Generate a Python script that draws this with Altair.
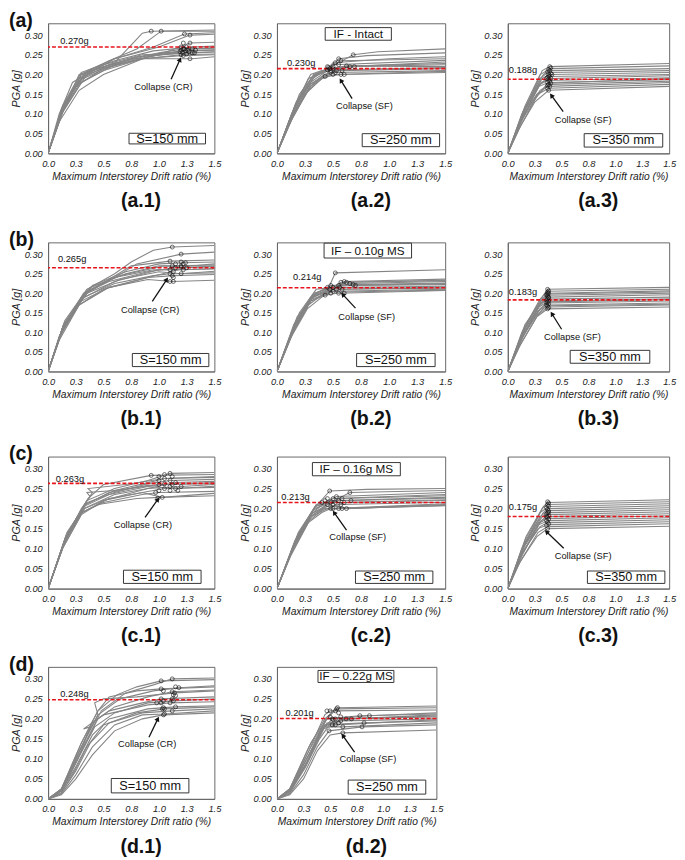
import math
import altair as alt
import pandas as pd

FONT = "Liberation Sans"
X_TICKS = [0, 0.25, 0.5, 0.75, 1.0, 1.25, 1.5]
Y_TICKS = [0, 0.05, 0.10, 0.15, 0.20, 0.25, 0.30]
X_TITLE = "Maximum Interstorey Drift ratio (%)"
Y_TITLE = "PGA [g]"

# ---------------- data ----------------
A1_CURVES = [
    [(0, 0), (0.1, 0.09), (0.25, 0.17), (0.5, 0.215), (0.85, 0.24), (1.2, 0.25), (1.5, 0.252)],
    [(0, 0), (0.12, 0.11), (0.3, 0.19), (0.55, 0.225), (0.9, 0.25), (1.22, 0.26), (1.5, 0.262)],
    [(0, 0), (0.15, 0.12), (0.28, 0.2), (0.45, 0.215), (0.8, 0.245), (1.25, 0.255), (1.5, 0.258)],
    [(0, 0), (0.1, 0.1), (0.22, 0.18), (0.4, 0.21), (0.75, 0.24), (1.3, 0.24), (1.5, 0.245)],
    [(0, 0), (0.13, 0.12), (0.3, 0.205), (0.6, 0.235), (0.95, 0.26), (1.3, 0.27), (1.5, 0.272)],
    [(0, 0), (0.14, 0.11), (0.35, 0.2), (0.65, 0.23), (1.0, 0.255), (1.22, 0.265), (1.5, 0.268)],
    [(0, 0), (0.1, 0.08), (0.28, 0.16), (0.5, 0.2), (0.9, 0.245), (1.25, 0.26), (1.5, 0.263)],
    [(0, 0), (0.12, 0.1), (0.3, 0.2), (0.6, 0.23), (0.7, 0.26), (0.8, 0.29), (0.85, 0.305), (0.93, 0.31), (1.5, 0.313)],
    [(0, 0), (0.13, 0.115), (0.3, 0.2), (0.55, 0.235), (0.8, 0.265), (1.02, 0.31), (1.5, 0.31)],
    [(0, 0), (0.12, 0.1), (0.32, 0.195), (0.6, 0.24), (0.95, 0.27), (1.23, 0.303), (1.5, 0.306)],
    [(0, 0), (0.15, 0.13), (0.35, 0.21), (0.6, 0.24), (1.0, 0.27), (1.28, 0.3), (1.5, 0.302)],
    [(0, 0), (0.1, 0.09), (0.3, 0.18), (0.6, 0.225), (1.0, 0.25), (1.28, 0.28), (1.5, 0.282)],
    [(0, 0), (0.12, 0.1), (0.28, 0.185), (0.55, 0.22), (0.9, 0.245), (1.32, 0.265), (1.5, 0.267)],
    [(0, 0), (0.14, 0.12), (0.32, 0.2), (0.5, 0.225), (0.85, 0.25), (1.3, 0.255), (1.5, 0.257)],
    [(0, 0), (0.11, 0.1), (0.26, 0.175), (0.5, 0.21), (0.85, 0.24), (1.2, 0.248), (1.5, 0.25)],
]
A1_POINTS = [(0.93, 0.31), (1.02, 0.31), (1.23, 0.303), (1.28, 0.3), (1.22, 0.28), (1.28, 0.28),
             (1.2, 0.27), (1.25, 0.27), (1.3, 0.265), (1.22, 0.265), (1.2, 0.262), (1.24, 0.26),
             (1.27, 0.258), (1.21, 0.256), (1.32, 0.255), (1.2, 0.25), (1.25, 0.252), (1.3, 0.255),
             (1.22, 0.248), (1.28, 0.24), (1.23, 0.265), (1.26, 0.262), (1.19, 0.258), (1.33, 0.262)]

A2_CURVES = [
    [(0, 0), (0.15, 0.1), (0.3, 0.17), (0.42, 0.2), (0.55, 0.21), (1.5, 0.215)],
    [(0, 0), (0.12, 0.09), (0.28, 0.16), (0.4, 0.19), (0.5, 0.205), (1.5, 0.21)],
    [(0, 0), (0.18, 0.12), (0.32, 0.19), (0.45, 0.215), (0.6, 0.22), (1.5, 0.225)],
    [(0, 0), (0.2, 0.15), (0.33, 0.2), (0.45, 0.215), (0.68, 0.25), (0.9, 0.258), (1.5, 0.265)],
    [(0, 0), (0.14, 0.1), (0.3, 0.18), (0.45, 0.21), (0.55, 0.24), (0.8, 0.248), (1.5, 0.255)],
    [(0, 0), (0.15, 0.11), (0.28, 0.19), (0.42, 0.205), (0.5, 0.23), (1.0, 0.24), (1.5, 0.245)],
    [(0, 0), (0.16, 0.12), (0.3, 0.2), (0.4, 0.21), (0.65, 0.22), (1.5, 0.232)],
    [(0, 0), (0.13, 0.1), (0.27, 0.17), (0.4, 0.195), (0.58, 0.2), (1.5, 0.205)],
    [(0, 0), (0.17, 0.13), (0.33, 0.2), (0.48, 0.21), (0.7, 0.222), (1.5, 0.228)],
    [(0, 0), (0.12, 0.08), (0.3, 0.17), (0.43, 0.195), (0.5, 0.225), (1.5, 0.236)],
    [(0, 0), (0.18, 0.13), (0.35, 0.2), (0.5, 0.215), (0.62, 0.222), (1.5, 0.22)],
    [(0, 0), (0.14, 0.09), (0.3, 0.175), (0.45, 0.2), (0.55, 0.212), (1.5, 0.218)],
    [(0, 0), (0.16, 0.12), (0.32, 0.195), (0.48, 0.22), (0.57, 0.235), (1.5, 0.24)],
    [(0, 0), (0.1, 0.07), (0.25, 0.15), (0.4, 0.19), (0.52, 0.2), (1.5, 0.208)],
]
A2_POINTS = [(0.43, 0.195), (0.45, 0.22), (0.47, 0.215), (0.48, 0.205), (0.5, 0.22), (0.52, 0.23),
             (0.5, 0.2), (0.53, 0.21), (0.55, 0.225), (0.57, 0.235), (0.58, 0.21), (0.6, 0.2),
             (0.48, 0.21), (0.5, 0.215), (0.45, 0.212), (0.65, 0.22), (0.68, 0.25), (0.69, 0.22),
             (0.62, 0.222), (0.55, 0.24), (0.52, 0.205), (0.57, 0.2), (0.46, 0.218)]

A3_CURVES = [
    [(0, 0), (0.12, 0.07), (0.25, 0.13), (0.38, 0.16), (1.5, 0.17)],
    [(0, 0), (0.1, 0.06), (0.28, 0.15), (0.38, 0.165), (1.5, 0.175)],
    [(0, 0), (0.15, 0.1), (0.27, 0.15), (0.37, 0.17), (1.5, 0.18)],
    [(0, 0), (0.13, 0.09), (0.3, 0.16), (0.39, 0.175), (1.5, 0.183)],
    [(0, 0), (0.12, 0.08), (0.29, 0.17), (0.38, 0.18), (1.5, 0.187)],
    [(0, 0), (0.16, 0.11), (0.3, 0.175), (0.37, 0.185), (1.5, 0.192)],
    [(0, 0), (0.14, 0.1), (0.31, 0.18), (0.4, 0.19), (1.5, 0.197)],
    [(0, 0), (0.11, 0.07), (0.28, 0.17), (0.38, 0.195), (1.5, 0.2)],
    [(0, 0), (0.15, 0.11), (0.32, 0.19), (0.39, 0.2), (1.5, 0.205)],
    [(0, 0), (0.17, 0.12), (0.3, 0.19), (0.37, 0.205), (1.5, 0.21)],
    [(0, 0), (0.13, 0.1), (0.33, 0.2), (0.38, 0.21), (1.5, 0.215)],
    [(0, 0), (0.16, 0.12), (0.3, 0.2), (0.4, 0.215), (1.5, 0.222)],
    [(0, 0), (0.14, 0.1), (0.32, 0.21), (0.39, 0.22), (1.5, 0.228)],
    [(0, 0), (0.12, 0.08), (0.26, 0.14), (0.37, 0.178), (1.5, 0.19)],
]
A3_POINTS = [(0.38, 0.16), (0.37, 0.165), (0.39, 0.17), (0.38, 0.175), (0.4, 0.178), (0.37, 0.18),
             (0.39, 0.183), (0.38, 0.187), (0.4, 0.19), (0.37, 0.193), (0.39, 0.197), (0.38, 0.2),
             (0.4, 0.203), (0.37, 0.207), (0.39, 0.21), (0.38, 0.213), (0.4, 0.217), (0.39, 0.22),
             (0.37, 0.172), (0.38, 0.195), (0.41, 0.2), (0.36, 0.19)]

B1_CURVES = [
    [(0, 0), (0.12, 0.1), (0.3, 0.18), (0.55, 0.215), (0.9, 0.235), (1.12, 0.23), (1.5, 0.233)],
    [(0, 0), (0.14, 0.12), (0.32, 0.19), (0.6, 0.225), (0.95, 0.245), (1.1, 0.25), (1.5, 0.252)],
    [(0, 0), (0.1, 0.09), (0.28, 0.17), (0.5, 0.21), (0.9, 0.24), (1.13, 0.245), (1.5, 0.248)],
    [(0, 0), (0.13, 0.11), (0.35, 0.2), (0.65, 0.235), (1.0, 0.255), (1.2, 0.25), (1.5, 0.256)],
    [(0, 0), (0.15, 0.13), (0.35, 0.21), (0.6, 0.24), (0.95, 0.26), (1.1, 0.26), (1.5, 0.262)],
    [(0, 0), (0.12, 0.1), (0.33, 0.2), (0.55, 0.23), (0.9, 0.255), (1.15, 0.265), (1.5, 0.268)],
    [(0, 0), (0.11, 0.09), (0.3, 0.185), (0.6, 0.23), (1.0, 0.26), (1.22, 0.26), (1.5, 0.263)],
    [(0, 0), (0.14, 0.12), (0.38, 0.215), (0.7, 0.25), (1.0, 0.27), (1.12, 0.27), (1.5, 0.272)],
    [(0, 0), (0.13, 0.11), (0.35, 0.205), (0.65, 0.245), (1.05, 0.27), (1.2, 0.267), (1.5, 0.275)],
    [(0, 0), (0.12, 0.1), (0.3, 0.19), (0.55, 0.235), (0.75, 0.27), (1.1, 0.282), (1.5, 0.285)],
    [(0, 0), (0.15, 0.12), (0.4, 0.22), (0.7, 0.255), (1.0, 0.275), (1.22, 0.278), (1.5, 0.28)],
    [(0, 0), (0.13, 0.11), (0.32, 0.2), (0.6, 0.24), (0.8, 0.275), (1.2, 0.3), (1.5, 0.305)],
    [(0, 0), (0.14, 0.12), (0.35, 0.21), (0.6, 0.25), (0.75, 0.28), (0.95, 0.31), (1.12, 0.318), (1.5, 0.322)],
    [(0, 0), (0.1, 0.08), (0.28, 0.17), (0.55, 0.215), (0.9, 0.24), (1.25, 0.265), (1.5, 0.27)],
]
B1_POINTS = [(1.12, 0.318), (1.2, 0.3), (1.1, 0.282), (1.2, 0.28), (1.22, 0.275), (1.12, 0.27),
             (1.15, 0.265), (1.2, 0.267), (1.1, 0.26), (1.25, 0.265), (1.22, 0.26), (1.13, 0.255),
             (1.1, 0.25), (1.12, 0.245), (1.2, 0.25), (1.13, 0.24), (1.1, 0.23), (1.13, 0.23),
             (1.2, 0.27), (1.24, 0.278), (1.15, 0.275)]

B2_CURVES = [
    [(0, 0), (0.14, 0.1), (0.3, 0.18), (0.43, 0.195), (0.6, 0.203), (1.5, 0.208)],
    [(0, 0), (0.15, 0.11), (0.3, 0.185), (0.45, 0.21), (0.55, 0.2), (1.5, 0.207)],
    [(0, 0), (0.17, 0.13), (0.32, 0.195), (0.47, 0.21), (0.6, 0.215), (1.5, 0.218)],
    [(0, 0), (0.18, 0.14), (0.35, 0.2), (0.48, 0.22), (0.7, 0.22), (1.5, 0.225)],
    [(0, 0), (0.13, 0.1), (0.3, 0.18), (0.44, 0.2), (0.52, 0.252), (1.5, 0.26)],
    [(0, 0), (0.16, 0.12), (0.33, 0.2), (0.5, 0.215), (0.6, 0.23), (1.5, 0.236)],
    [(0, 0), (0.15, 0.12), (0.3, 0.19), (0.45, 0.205), (0.57, 0.228), (1.5, 0.232)],
    [(0, 0), (0.2, 0.15), (0.35, 0.21), (0.5, 0.215), (0.65, 0.225), (1.5, 0.23)],
    [(0, 0), (0.12, 0.09), (0.28, 0.17), (0.42, 0.2), (0.58, 0.21), (1.5, 0.213)],
    [(0, 0), (0.16, 0.11), (0.32, 0.19), (0.47, 0.205), (0.62, 0.228), (1.5, 0.233)],
    [(0, 0), (0.14, 0.1), (0.31, 0.185), (0.46, 0.2), (0.55, 0.22), (1.5, 0.222)],
    [(0, 0), (0.18, 0.13), (0.34, 0.2), (0.48, 0.215), (0.68, 0.222), (1.5, 0.226)],
    [(0, 0), (0.11, 0.08), (0.27, 0.16), (0.4, 0.19), (0.5, 0.205), (1.5, 0.21)],
    [(0, 0), (0.17, 0.12), (0.33, 0.195), (0.5, 0.21), (0.58, 0.21), (1.5, 0.216)],
]
B2_POINTS = [(0.43, 0.195), (0.45, 0.215), (0.47, 0.21), (0.48, 0.22), (0.5, 0.205), (0.5, 0.215),
             (0.52, 0.252), (0.53, 0.21), (0.55, 0.22), (0.55, 0.2), (0.57, 0.228), (0.58, 0.21),
             (0.6, 0.23), (0.6, 0.2), (0.62, 0.228), (0.65, 0.225), (0.68, 0.222), (0.7, 0.22),
             (0.56, 0.215), (0.48, 0.2)]

B3_CURVES = [
    [(0, 0), (0.12, 0.07), (0.27, 0.14), (0.37, 0.16), (1.5, 0.165)],
    [(0, 0), (0.1, 0.06), (0.28, 0.145), (0.37, 0.165), (1.5, 0.17)],
    [(0, 0), (0.14, 0.09), (0.28, 0.155), (0.38, 0.17), (1.5, 0.175)],
    [(0, 0), (0.13, 0.09), (0.3, 0.16), (0.37, 0.175), (1.5, 0.18)],
    [(0, 0), (0.12, 0.08), (0.29, 0.165), (0.38, 0.18), (1.5, 0.186)],
    [(0, 0), (0.16, 0.11), (0.3, 0.17), (0.37, 0.185), (1.5, 0.19)],
    [(0, 0), (0.14, 0.1), (0.31, 0.175), (0.38, 0.19), (1.5, 0.196)],
    [(0, 0), (0.11, 0.07), (0.28, 0.165), (0.37, 0.195), (1.5, 0.2)],
    [(0, 0), (0.15, 0.11), (0.32, 0.185), (0.38, 0.2), (1.5, 0.206)],
    [(0, 0), (0.17, 0.12), (0.3, 0.185), (0.37, 0.205), (1.5, 0.21)],
    [(0, 0), (0.13, 0.1), (0.33, 0.195), (0.37, 0.21), (1.5, 0.215)],
    [(0, 0), (0.12, 0.08), (0.27, 0.145), (0.36, 0.168), (1.5, 0.172)],
    [(0, 0), (0.15, 0.1), (0.3, 0.16), (0.38, 0.178), (1.5, 0.184)],
    [(0, 0), (0.16, 0.12), (0.31, 0.18), (0.36, 0.198), (1.5, 0.203)],
]
B3_POINTS = [(0.37, 0.16), (0.38, 0.163), (0.37, 0.167), (0.36, 0.17), (0.38, 0.173), (0.37, 0.177),
             (0.38, 0.18), (0.36, 0.183), (0.37, 0.186), (0.38, 0.19), (0.37, 0.193), (0.36, 0.196),
             (0.38, 0.2), (0.37, 0.203), (0.38, 0.206), (0.37, 0.21), (0.36, 0.176), (0.38, 0.188),
             (0.37, 0.198)]

C1_CURVES = [
    [(0, 0), (0.15, 0.12), (0.3, 0.19), (0.45, 0.21), (0.8, 0.225), (1.0, 0.228), (1.5, 0.232)],
    [(0, 0), (0.14, 0.11), (0.3, 0.19), (0.5, 0.215), (0.85, 0.235), (1.0, 0.24), (1.5, 0.243)],
    [(0, 0), (0.17, 0.13), (0.33, 0.2), (0.5, 0.22), (0.85, 0.24), (1.05, 0.25), (1.5, 0.253)],
    [(0, 0), (0.15, 0.12), (0.3, 0.2), (0.38, 0.23), (0.35, 0.24), (0.6, 0.245), (1.0, 0.26), (1.5, 0.262)],
    [(0, 0), (0.16, 0.13), (0.32, 0.205), (0.55, 0.235), (0.9, 0.255), (1.15, 0.25), (1.5, 0.256)],
    [(0, 0), (0.13, 0.1), (0.3, 0.185), (0.5, 0.22), (0.9, 0.25), (1.15, 0.265), (1.5, 0.268)],
    [(0, 0), (0.17, 0.14), (0.35, 0.215), (0.6, 0.24), (0.9, 0.262), (1.1, 0.27), (1.5, 0.273)],
    [(0, 0), (0.15, 0.12), (0.33, 0.21), (0.6, 0.245), (0.95, 0.268), (1.05, 0.275), (1.5, 0.278)],
    [(0, 0), (0.16, 0.13), (0.36, 0.225), (0.5, 0.26), (0.93, 0.283), (1.5, 0.285)],
    [(0, 0), (0.18, 0.14), (0.35, 0.22), (0.6, 0.25), (0.9, 0.27), (1.1, 0.288), (1.5, 0.29)],
    [(0, 0), (0.14, 0.11), (0.32, 0.2), (0.6, 0.235), (0.9, 0.25), (1.2, 0.255), (1.5, 0.26)],
    [(0, 0), (0.15, 0.12), (0.34, 0.21), (0.55, 0.24), (0.9, 0.258), (1.12, 0.26), (1.5, 0.265)],
    [(0, 0), (0.13, 0.1), (0.31, 0.19), (0.55, 0.225), (0.85, 0.24), (1.03, 0.228), (1.5, 0.238)],
    [(0, 0), (0.16, 0.13), (0.34, 0.215), (0.4, 0.24), (0.36, 0.25), (0.7, 0.26), (1.05, 0.275), (1.5, 0.28)],
]
C1_POINTS = [(0.93, 0.283), (1.0, 0.28), (1.05, 0.285), (1.1, 0.288), (1.12, 0.28), (1.0, 0.27),
             (1.05, 0.275), (1.1, 0.27), (1.15, 0.265), (1.0, 0.26), (1.05, 0.262), (1.12, 0.26),
             (1.2, 0.255), (1.15, 0.25), (1.05, 0.25), (1.0, 0.245), (1.1, 0.245), (1.17, 0.245),
             (0.97, 0.24), (1.03, 0.228), (0.99, 0.226), (1.1, 0.255)]

C2_CURVES = [
    [(0, 0), (0.15, 0.11), (0.3, 0.18), (0.42, 0.2), (0.5, 0.2), (1.5, 0.207)],
    [(0, 0), (0.17, 0.12), (0.32, 0.19), (0.43, 0.215), (0.6, 0.215), (1.5, 0.22)],
    [(0, 0), (0.14, 0.1), (0.3, 0.18), (0.45, 0.21), (0.62, 0.2), (1.5, 0.21)],
    [(0, 0), (0.18, 0.13), (0.33, 0.2), (0.47, 0.244), (0.8, 0.248), (1.5, 0.25)],
    [(0, 0), (0.16, 0.12), (0.32, 0.195), (0.5, 0.225), (1.5, 0.235)],
    [(0, 0), (0.15, 0.11), (0.3, 0.185), (0.45, 0.21), (0.55, 0.22), (1.5, 0.228)],
    [(0, 0), (0.19, 0.14), (0.34, 0.205), (0.48, 0.215), (0.65, 0.24), (1.5, 0.245)],
    [(0, 0), (0.13, 0.09), (0.29, 0.17), (0.42, 0.2), (0.55, 0.2), (1.5, 0.208)],
    [(0, 0), (0.17, 0.12), (0.33, 0.2), (0.5, 0.215), (0.58, 0.225), (1.5, 0.232)],
    [(0, 0), (0.16, 0.11), (0.32, 0.19), (0.45, 0.205), (0.57, 0.21), (1.5, 0.216)],
    [(0, 0), (0.2, 0.14), (0.35, 0.21), (0.5, 0.22), (0.66, 0.22), (1.5, 0.226)],
    [(0, 0), (0.14, 0.1), (0.31, 0.18), (0.45, 0.2), (0.6, 0.215), (1.5, 0.222)],
    [(0, 0), (0.18, 0.13), (0.34, 0.205), (0.53, 0.23), (1.5, 0.24)],
    [(0, 0), (0.12, 0.08), (0.28, 0.165), (0.4, 0.19), (0.48, 0.2), (1.5, 0.212)],
]
C2_POINTS = [(0.4, 0.215), (0.43, 0.22), (0.45, 0.225), (0.47, 0.244), (0.48, 0.215), (0.5, 0.2),
             (0.5, 0.225), (0.52, 0.215), (0.53, 0.23), (0.55, 0.22), (0.55, 0.2), (0.57, 0.21),
             (0.58, 0.225), (0.6, 0.215), (0.62, 0.2), (0.45, 0.21), (0.5, 0.21), (0.65, 0.24),
             (0.66, 0.22), (0.48, 0.2), (0.58, 0.2)]

C3_CURVES = [
    [(0, 0), (0.12, 0.07), (0.27, 0.13), (0.37, 0.15), (1.5, 0.156)],
    [(0, 0), (0.1, 0.06), (0.28, 0.14), (0.37, 0.155), (1.5, 0.162)],
    [(0, 0), (0.14, 0.09), (0.28, 0.15), (0.38, 0.16), (1.5, 0.167)],
    [(0, 0), (0.13, 0.09), (0.3, 0.155), (0.37, 0.165), (1.5, 0.172)],
    [(0, 0), (0.12, 0.08), (0.29, 0.16), (0.38, 0.17), (1.5, 0.177)],
    [(0, 0), (0.16, 0.11), (0.3, 0.165), (0.37, 0.175), (1.5, 0.182)],
    [(0, 0), (0.14, 0.1), (0.31, 0.17), (0.38, 0.18), (1.5, 0.187)],
    [(0, 0), (0.11, 0.07), (0.28, 0.16), (0.37, 0.185), (1.5, 0.192)],
    [(0, 0), (0.15, 0.11), (0.32, 0.18), (0.38, 0.19), (1.5, 0.197)],
    [(0, 0), (0.17, 0.12), (0.3, 0.18), (0.37, 0.195), (1.5, 0.202)],
    [(0, 0), (0.13, 0.1), (0.33, 0.19), (0.37, 0.2), (1.5, 0.207)],
    [(0, 0), (0.16, 0.12), (0.3, 0.19), (0.38, 0.205), (1.5, 0.212)],
    [(0, 0), (0.14, 0.1), (0.32, 0.2), (0.37, 0.21), (1.5, 0.217)],
    [(0, 0), (0.17, 0.13), (0.33, 0.205), (0.37, 0.215), (1.5, 0.222)],
]
C3_POINTS = [(0.37, 0.15), (0.36, 0.158), (0.38, 0.162), (0.37, 0.166), (0.36, 0.17), (0.38, 0.174),
             (0.37, 0.178), (0.38, 0.182), (0.36, 0.186), (0.37, 0.19), (0.38, 0.194), (0.37, 0.198),
             (0.36, 0.202), (0.38, 0.206), (0.37, 0.21), (0.38, 0.214), (0.37, 0.217), (0.36, 0.18),
             (0.38, 0.19)]

D1_CURVES = [
    [(0, 0), (0.12, 0.01), (0.25, 0.05), (0.4, 0.11), (0.6, 0.17), (0.85, 0.2), (1.04, 0.21), (1.5, 0.215)],
    [(0, 0), (0.12, 0.012), (0.25, 0.06), (0.4, 0.13), (0.6, 0.185), (0.85, 0.21), (1.05, 0.212), (1.5, 0.22)],
    [(0, 0), (0.12, 0.015), (0.25, 0.07), (0.38, 0.14), (0.55, 0.19), (0.85, 0.215), (1.12, 0.22), (1.5, 0.225)],
    [(0, 0), (0.12, 0.015), (0.25, 0.075), (0.35, 0.13), (0.5, 0.185), (0.8, 0.215), (1.05, 0.225), (1.5, 0.23)],
    [(0, 0), (0.12, 0.02), (0.25, 0.08), (0.4, 0.16), (0.55, 0.2), (0.9, 0.225), (1.15, 0.23), (1.5, 0.233)],
    [(0, 0), (0.12, 0.02), (0.27, 0.1), (0.38, 0.18), (0.32, 0.175), (0.5, 0.21), (0.9, 0.235), (1.1, 0.24), (1.5, 0.243)],
    [(0, 0), (0.12, 0.02), (0.25, 0.09), (0.42, 0.18), (0.6, 0.215), (0.9, 0.24), (1.13, 0.245), (1.5, 0.25)],
    [(0, 0), (0.12, 0.022), (0.27, 0.11), (0.4, 0.19), (0.55, 0.22), (0.85, 0.24), (1.02, 0.25), (1.5, 0.255)],
    [(0, 0), (0.12, 0.025), (0.3, 0.13), (0.45, 0.21), (0.42, 0.24), (0.5, 0.25), (0.8, 0.255), (1.14, 0.265), (1.5, 0.27)],
    [(0, 0), (0.12, 0.02), (0.28, 0.11), (0.45, 0.2), (0.6, 0.23), (0.9, 0.255), (1.12, 0.268), (1.5, 0.272)],
    [(0, 0), (0.12, 0.025), (0.3, 0.14), (0.45, 0.22), (0.55, 0.255), (0.8, 0.27), (1.02, 0.275), (1.5, 0.28)],
    [(0, 0), (0.12, 0.022), (0.28, 0.12), (0.45, 0.21), (0.65, 0.25), (0.95, 0.27), (1.18, 0.278), (1.5, 0.283)],
    [(0, 0), (0.12, 0.025), (0.3, 0.14), (0.45, 0.22), (0.62, 0.26), (0.8, 0.28), (1.02, 0.295), (1.5, 0.298)],
    [(0, 0), (0.12, 0.02), (0.3, 0.12), (0.48, 0.22), (0.7, 0.265), (0.95, 0.285), (1.12, 0.3), (1.5, 0.302)],
]
D1_POINTS = [(0.98, 0.24), (1.02, 0.295), (1.02, 0.275), (1.04, 0.27), (1.02, 0.25), (1.04, 0.245),
             (1.02, 0.24), (1.04, 0.228), (1.05, 0.225), (1.04, 0.21), (1.05, 0.212), (1.12, 0.3),
             (1.15, 0.28), (1.18, 0.278), (1.12, 0.268), (1.14, 0.265), (1.13, 0.26), (1.15, 0.258),
             (1.12, 0.25), (1.1, 0.24), (1.13, 0.245), (1.15, 0.23), (1.12, 0.22), (1.03, 0.225)]

D2_CURVES = [
    [(0, 0), (0.12, 0.01), (0.25, 0.05), (0.38, 0.12), (0.5, 0.16), (0.62, 0.165), (1.5, 0.172)],
    [(0, 0), (0.12, 0.012), (0.25, 0.06), (0.38, 0.13), (0.49, 0.17), (0.8, 0.18), (1.5, 0.185)],
    [(0, 0), (0.12, 0.015), (0.27, 0.08), (0.4, 0.15), (0.48, 0.18), (0.62, 0.18), (1.5, 0.19)],
    [(0, 0), (0.12, 0.015), (0.28, 0.09), (0.42, 0.175), (0.45, 0.185), (0.82, 0.19), (1.5, 0.195)],
    [(0, 0), (0.12, 0.02), (0.3, 0.1), (0.43, 0.175), (0.55, 0.185), (1.5, 0.198)],
    [(0, 0), (0.12, 0.02), (0.28, 0.09), (0.42, 0.17), (0.52, 0.2), (1.5, 0.205)],
    [(0, 0), (0.12, 0.018), (0.3, 0.1), (0.45, 0.18), (0.6, 0.195), (1.5, 0.2)],
    [(0, 0), (0.12, 0.022), (0.3, 0.11), (0.45, 0.185), (0.65, 0.2), (1.5, 0.207)],
    [(0, 0), (0.12, 0.02), (0.32, 0.12), (0.47, 0.19), (0.7, 0.2), (1.5, 0.21)],
    [(0, 0), (0.12, 0.022), (0.3, 0.11), (0.46, 0.2), (0.78, 0.208), (1.5, 0.212)],
    [(0, 0), (0.12, 0.025), (0.32, 0.13), (0.47, 0.2), (0.87, 0.208), (1.5, 0.215)],
    [(0, 0), (0.12, 0.02), (0.3, 0.12), (0.45, 0.21), (0.5, 0.22), (1.5, 0.222)],
    [(0, 0), (0.12, 0.025), (0.3, 0.13), (0.45, 0.2), (0.56, 0.225), (1.5, 0.228)],
    [(0, 0), (0.12, 0.025), (0.32, 0.14), (0.47, 0.2), (0.57, 0.228), (1.5, 0.232)],
]
D2_POINTS = [(0.47, 0.22), (0.5, 0.22), (0.49, 0.17), (0.5, 0.205), (0.52, 0.2), (0.53, 0.198),
             (0.55, 0.2), (0.56, 0.225), (0.57, 0.228), (0.55, 0.22), (0.58, 0.215), (0.6, 0.205),
             (0.6, 0.195), (0.62, 0.18), (0.62, 0.165), (0.65, 0.2), (0.7, 0.2), (0.78, 0.208),
             (0.8, 0.18), (0.82, 0.19), (0.87, 0.208), (0.55, 0.185), (0.58, 0.19), (0.52, 0.185)]

# median lines (value where the dashed line is drawn) and their printed labels
MEDIAN_Y = {"a1": 0.270, "a2": 0.215, "a3": 0.188, "b1": 0.265, "b2": 0.214, "b3": 0.183,
            "c1": 0.263, "c2": 0.215, "c3": 0.180, "d1": 0.248, "d2": 0.201}
MEDIAN_LABEL = {"a1": "0.270g", "a2": "0.230g", "a3": "0.188g", "b1": "0.265g", "b2": "0.214g",
                "b3": "0.183g", "c1": "0.263g", "c2": "0.213g", "c3": "0.175g", "d1": "0.248g",
                "d2": "0.201g"}
SPACING_LABEL = {"1": "S=150 mm", "2": "S=250 mm", "3": "S=350 mm"}
COLLAPSE_LABEL = {"1": "Collapse (CR)", "2": "Collapse (SF)", "3": "Collapse (SF)"}
IF_LABEL = {"a": "IF - Intact", "b": "IF \u2013 0.10g MS", "c": "IF \u2013 0.16g MS", "d": "IF \u2013 0.22g MS"}

# ---------------- layout / annotation placement ----------------
LAYOUT = {
    "a1": dict(ml=(0.10, 0.285), ct=(1.04, 0.168), at=(1.11, 0.188), ah=(1.19, 0.238), sb=(0.73, 1.42, 0.024, 0.051)),
    "a2": dict(ml=(0.08, 0.23), ct=(0.78, 0.121), at=(0.67, 0.139), ah=(0.57, 0.185), sb=(0.76, 1.45, 0.017, 0.05), ib=(0.43, 1.02, 0.287, 0.319)),
    "a3": dict(ml=(0.0, 0.211), ct=(0.70, 0.085), at=(0.515, 0.106), ah=(0.405, 0.147), sb=(0.71, 1.44, 0.016, 0.05)),
    "b1": dict(ml=(0.08, 0.2875), ct=(0.92, 0.157), at=(0.94, 0.179), ah=(1.07, 0.235), sb=(0.76, 1.45, 0.0125, 0.046)),
    "b2": dict(ml=(0.135, 0.242), ct=(0.80, 0.139), at=(0.70, 0.162), ah=(0.586, 0.197), sb=(0.71, 1.41, 0.0125, 0.046), ib=(0.42, 1.20, 0.29, 0.328)),
    "b3": dict(ml=(0.0, 0.204), ct=(0.60, 0.0875), at=(0.50, 0.108), ah=(0.41, 0.1475), sb=(0.58, 1.32, 0.021, 0.054)),
    "c1": dict(ml=(0.06, 0.274), ct=(0.855, 0.158), at=(0.875, 0.178), ah=(0.99, 0.223), sb=(0.68, 1.38, 0.013, 0.046)),
    "c2": dict(ml=(0.03, 0.229), ct=(0.72, 0.128), at=(0.62, 0.146), ah=(0.51, 0.19), sb=(0.70, 1.39, 0.013, 0.044), ib=(0.316, 1.10, 0.282, 0.315)),
    "c3": dict(ml=(0.0, 0.204), ct=(0.70, 0.082), at=(0.52, 0.101), ah=(0.36, 0.142), sb=(0.74, 1.46, 0.013, 0.044)),
    "d1": dict(ml=(0.10, 0.262), ct=(0.894, 0.136), at=(0.91, 0.154), ah=(0.99, 0.20), sb=(0.57, 1.27, 0.015, 0.051)),
    "d2": dict(ml=(0.07, 0.215), ct=(0.855, 0.099), at=(0.73, 0.117), ah=(0.62, 0.158), sb=(0.67, 1.40, 0.012, 0.047), ib=(0.386, 1.10, 0.291, 0.321)),
}
WIDTHS = {"a1": 170, "a2": 172, "a3": 165, "b1": 170, "b2": 172, "b3": 165,
          "c1": 170, "c2": 172, "c3": 165, "d1": 170, "d2": 163}
HEIGHTS = {"a": 133, "b": 132, "c": 135, "d": 135}
XMAX, YMAX = 1.5, 0.33

DATA = {"a1": (A1_CURVES, A1_POINTS), "a2": (A2_CURVES, A2_POINTS), "a3": (A3_CURVES, A3_POINTS),
        "b1": (B1_CURVES, B1_POINTS), "b2": (B2_CURVES, B2_POINTS), "b3": (B3_CURVES, B3_POINTS),
        "c1": (C1_CURVES, C1_POINTS), "c2": (C2_CURVES, C2_POINTS), "c3": (C3_CURVES, C3_POINTS),
        "d1": (D1_CURVES, D1_POINTS), "d2": (D2_CURVES, D2_POINTS)}

XS = alt.Scale(domain=[0, XMAX], nice=False, zero=True)
YS = alt.Scale(domain=[0, YMAX], nice=False, zero=True)
XAX = alt.Axis(values=X_TICKS, format=".1f", title=X_TITLE, labelOverlap=False, labelFlush=False,
               tickCount=7)
YAX = alt.Axis(values=Y_TICKS, format=".2f", title=Y_TITLE, labelOverlap=False, labelFlush=False,
               tickCount=7)


def X(f="x"):
    return alt.X(f + ":Q", scale=XS, axis=XAX)


def Y(f="y"):
    return alt.Y(f + ":Q", scale=YS, axis=YAX)


def panel(key):
    row, col = key[0], key[1]
    curves, points = DATA[key]
    lay = LAYOUT[key]
    w = WIDTHS[key]
    h = HEIGHTS[row]

    rows = []
    for ci, c in enumerate(curves):
        for oi, (x, y) in enumerate(c):
            rows.append({"c": ci, "o": oi, "x": x, "y": y})
    ldf = pd.DataFrame(rows)
    lines = alt.Chart(ldf).mark_line(color="#858585", strokeWidth=1.1, clip=True).encode(
        x=X(), y=Y(), detail="c:N", order="o:Q")

    pts = alt.Chart(pd.DataFrame(points, columns=["x", "y"])).mark_point(
        shape="circle", filled=False, color="#111", size=16, strokeWidth=0.9).encode(x=X(), y=Y())

    med = alt.Chart(pd.DataFrame({"y": [MEDIAN_Y[key]]})).mark_rule(
        color="#e8141c", strokeDash=[4, 2], strokeWidth=1.6).encode(y=Y())

    mlab = alt.Chart(pd.DataFrame({"x": [lay["ml"][0]], "y": [lay["ml"][1]], "t": [MEDIAN_LABEL[key]]})).mark_text(
        align="left", baseline="middle", fontSize=9.5, font=FONT, color="#111", dx=1).encode(x=X(), y=Y(), text="t:N")

    ctext = alt.Chart(pd.DataFrame({"x": [lay["ct"][0]], "y": [lay["ct"][1]], "t": [COLLAPSE_LABEL[col]]})).mark_text(
        align="center", baseline="middle", fontSize=9.5, font=FONT, color="#111").encode(x=X(), y=Y(), text="t:N")

    (tx, ty), (hx, hy) = lay["at"], lay["ah"]
    arrow = alt.Chart(pd.DataFrame({"x": [tx], "y": [ty], "x2": [hx], "y2": [hy]})).mark_rule(
        color="#111", strokeWidth=1.3).encode(x=X(), y=Y(), x2="x2:Q", y2="y2:Q")
    dxp = (hx - tx) / XMAX * w
    dyp = -(hy - ty) / YMAX * h
    ang = math.degrees(math.atan2(dxp, -dyp)) % 360
    head = alt.Chart(pd.DataFrame({"x": [hx], "y": [hy]})).mark_point(
        shape="triangle-up", filled=True, color="#111", size=30, angle=ang, opacity=1).encode(x=X(), y=Y())

    x1, x2, y1, y2 = lay["sb"]
    sbox = alt.Chart(pd.DataFrame({"x": [x1], "x2": [x2], "y": [y1], "y2": [y2]})).mark_rect(
        fill="white", stroke="#333", strokeWidth=1).encode(x=X(), x2="x2:Q", y=Y(), y2="y2:Q")
    stext = alt.Chart(pd.DataFrame({"x": [(x1 + x2) / 2], "y": [(y1 + y2) / 2], "t": [SPACING_LABEL[col]]})).mark_text(
        align="center", baseline="middle", fontSize=13, font=FONT, color="#111").encode(x=X(), y=Y(), text="t:N")

    layers = [lines, med, pts, mlab, ctext, arrow, head, sbox, stext]
    if "ib" in lay:
        a1, a2, b1, b2 = lay["ib"]
        ibox = alt.Chart(pd.DataFrame({"x": [a1], "x2": [a2], "y": [b1], "y2": [b2]})).mark_rect(
            fill="white", stroke="#333", strokeWidth=1).encode(x=X(), x2="x2:Q", y=Y(), y2="y2:Q")
        itext = alt.Chart(pd.DataFrame({"x": [(a1 + a2) / 2], "y": [(b1 + b2) / 2], "t": [IF_LABEL[row]]})).mark_text(
            align="center", baseline="middle", fontSize=12, font=FONT, color="#111").encode(x=X(), y=Y(), text="t:N")
        layers += [ibox, itext]
    if col == "1":
        letter = alt.Chart(pd.DataFrame({"t": ["(" + row + ")"]})).mark_text(
            align="left", baseline="middle", fontSize=20, fontWeight="bold", font=FONT, color="#111").encode(
            x=alt.value(-40), y=alt.value(-2), text="t:N")
        layers.append(letter)

    cap = "(" + row + "." + col + ")"
    return alt.layer(*layers).properties(
        width=w, height=h,
        title=alt.TitleParams(cap, orient="bottom", fontSize=20, fontWeight="bold", font=FONT,
                              color="#111", offset=10, dx=10))


def row_chart(r):
    keys = [k for k in WIDTHS if k[0] == r]
    return alt.hconcat(*[panel(k) for k in keys], spacing=17)


inner_cd = alt.vconcat(row_chart("c"), row_chart("d"), spacing=7)
inner_bcd = alt.vconcat(row_chart("b"), inner_cd, spacing=14)
chart = alt.vconcat(row_chart("a"), inner_bcd, spacing=18).properties(
    padding={"top": -7, "left": 0, "right": 0, "bottom": 0}
).configure_axis(
    labelFont=FONT, titleFont=FONT, labelFontSize=9.5, labelFontStyle="italic",
    titleFontStyle="italic", titleFontWeight="normal", titleFontSize=10.5, grid=False, ticks=False,
    domainColor="#666", labelColor="#222", titleColor="#222"
).configure_axisY(titleFontSize=11, labelPadding=6, titlePadding=3
).configure_axisX(labelPadding=5, titlePadding=4
).configure_view(stroke="#666")

chart.save("out.html", embed_options={"renderer": "svg", "actions": False})
